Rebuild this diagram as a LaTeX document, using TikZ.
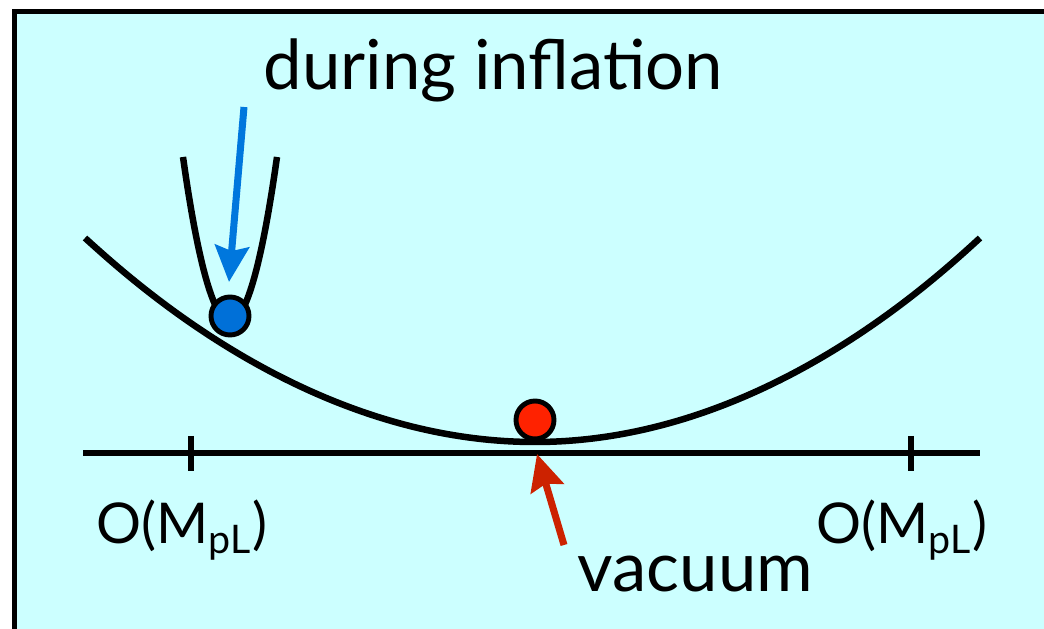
\documentclass[tikz,border=0pt]{standalone}
\usepackage{fontspec}
\setmainfont{Lato}
\usetikzlibrary{arrows.meta}
\definecolor{bgcyan}{HTML}{CCFFFF}
\definecolor{infblue}{HTML}{0077DD}
\definecolor{ballblue}{HTML}{0070D8}
\definecolor{vacred}{HTML}{CC2200}
\definecolor{ballred}{HTML}{FF2200}
\tikzset{
  pot/.style={line width=1.85pt},
  ball/.style={circle,draw=black,line width=1.4pt,minimum size=0.38cm,inner sep=0pt},
  ptr/.style={line width=2pt,-{Stealth[length=0.36cm,width=0.34cm,inset=0.05cm]}},
  lbl/.style={inner sep=0pt,font=\fontsize{19.6}{24}\selectfont},
  scl/.style={inner sep=0pt,font=\fontsize{16}{19}\selectfont}
}
\begin{document}
\begin{tikzpicture}
\useasboundingbox (0,0) rectangle (10.44,6.29);
\fill[bgcyan] (0.145,0) rectangle (10.44,6.175);
\draw[line width=1.42pt] (0.145,0) -- (0.145,6.175) -- (10.44,6.175);
% potentials
\draw[pot] (0.85,3.91) parabola bend (5.35,1.87) (9.80,3.91);
\draw[pot] (1.83,4.72) parabola bend (2.30,3.075) (2.77,4.72);
% field axis with ticks
\draw[pot] (0.83,1.76) -- (9.80,1.76);
\draw[pot] (1.91,1.93) -- (1.91,1.58);
\draw[pot] (9.11,1.93) -- (9.11,1.58);
\node[scl,anchor=base] (scaleL) at (1.82,0.85) {O(M\textsubscript{pL})};
\node[scl,anchor=base] (scaleR) at (9.02,0.85) {O(M\textsubscript{pL})};
% balls
\node[ball,fill=ballblue] (infball) at (2.30,3.13) {};
\node[ball,fill=ballred] (vacball) at (5.35,2.09) {};
% labels and pointers
\node[lbl,anchor=base] (inflabel) at (4.935,5.39) {during inflation};
\node[lbl,anchor=base] (vaclabel) at (6.955,0.37) {vacuum};
\coordinate (inftail) at (2.44,5.22);
\coordinate (inftip) at (2.29,3.47);
\coordinate (vactail) at (5.64,0.84);
\coordinate (vacmin) at (5.37,1.75);
\draw[ptr,infblue] (inftail) -- (inftip);
\draw[ptr,vacred] (vactail) -- (vacmin);
\end{tikzpicture}
\end{document}
